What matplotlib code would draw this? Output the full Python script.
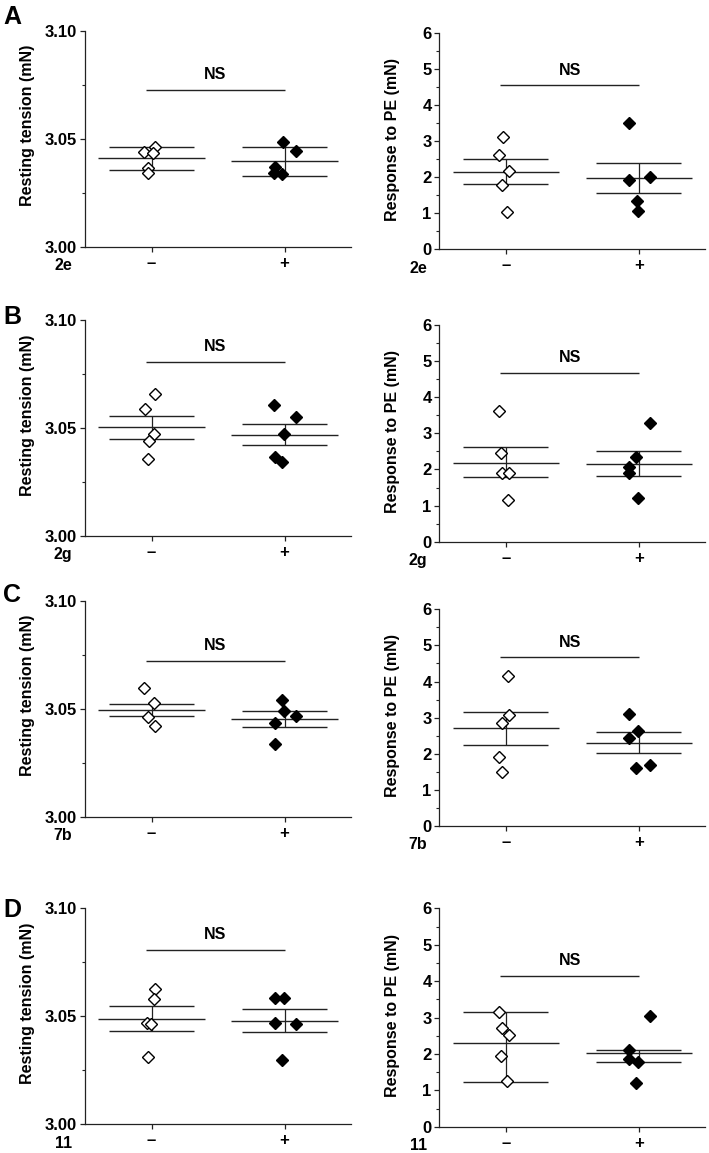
import matplotlib
matplotlib.use('Agg')
import matplotlib.pyplot as plt
import numpy as np

plt.rcParams['font.family'] = ['Liberation Sans', 'DejaVu Sans']
plt.rcParams['font.weight'] = 'bold'

# panel rows
row_letters = ['A', 'B', 'C', 'D']
row_tags = ['2e', '2g', '7b', '11']
groups = ['–', '+']

# resting tension (mN), one list per row
rt_neg = [
    [3.0438, 3.0461, 3.0435, 3.0366, 3.0339],
    [3.0656, 3.0586, 3.0472, 3.0438, 3.0357],
    [3.0597, 3.0528, 3.0463, 3.0420],
    [3.0625, 3.0577, 3.0466, 3.0463, 3.0309],
]
rt_pos = [
    [3.0486, 3.0444, 3.0370, 3.0343, 3.0336],
    [3.0606, 3.0549, 3.0472, 3.0367, 3.0344],
    [3.0540, 3.0491, 3.0468, 3.0435, 3.0335],
    [3.0582, 3.0582, 3.0466, 3.0462, 3.0297],
]
rt_mean = [[3.0409, 3.0397], [3.0505, 3.0469], [3.0494, 3.0452], [3.0485, 3.0478]]
rt_lo = [[3.0356, 3.0326], [3.0449, 3.0420], [3.0467, 3.0417], [3.0431, 3.0425]]
rt_hi = [[3.0463, 3.0463], [3.0556, 3.0520], [3.0523, 3.0489], [3.0545, 3.0532]]
rt_ns = [3.0725, 3.0807, 3.0722, 3.0805]

# response to PE (mN)
pe_neg = [
    [3.11, 2.62, 2.18, 1.79, 1.04],
    [3.62, 2.45, 1.91, 1.89, 1.15],
    [4.15, 3.07, 2.86, 1.90, 1.49],
    [3.14, 2.72, 2.52, 1.94, 1.26],
]
pe_pos = [
    [3.52, 1.93, 2.02, 1.34, 1.06],
    [3.28, 2.34, 2.08, 1.91, 1.20],
    [3.10, 2.64, 2.43, 1.60, 1.69],
    [3.04, 2.12, 1.87, 1.78, 1.21],
]
pe_mean = [[2.15, 1.99], [2.19, 2.15], [2.70, 2.30], [2.31, 2.03]]
pe_lo = [[1.81, 1.56], [1.80, 1.83], [2.23, 2.03], [1.24, 1.79]]
pe_hi = [[2.51, 2.41], [2.61, 2.50], [3.16, 2.59], [3.16, 2.12]]
pe_ns = [4.55, 4.68, 4.67, 4.15]

# horizontal scatter of the points around each group
rt_neg_dx = [[-0.058, 0.025, 0.0125, -0.025, -0.025], [0.03, -0.0525, 0.0175, -0.02, -0.025],
             [-0.058, 0.017, -0.028, 0.023], [0.025, 0.0175, -0.0325, -0.0075, -0.025]]
rt_pos_dx = [[-0.008, 0.0875, -0.07, -0.078, -0.02], [-0.0775, 0.0875, -0.0075, -0.07, -0.02],
             [-0.02, -0.0075, 0.0875, -0.07, -0.07], [-0.07, -0.0075, -0.07, 0.0875, -0.02]]
pe_neg_dx = [[-0.02, -0.05, 0.025, -0.03, 0.0125], [-0.05, -0.0325, -0.025, 0.025, 0.0175],
             [0.0175, 0.025, -0.025, -0.05, -0.03], [-0.05, -0.025, 0.025, -0.0325, 0.0125]]
pe_pos_dx = [[-0.07, -0.07, 0.0875, -0.0125, -0.005], [0.0875, -0.0175, -0.07, -0.07, -0.005],
             [-0.07, -0.005, -0.07, -0.0175, 0.0875], [0.0875, -0.07, -0.07, -0.005, -0.0175]]

W, H = 709, 1153
LINE = '#222222'


def rect(left, top, right, bottom):
    return [left / W, 1 - bottom / H, (right - left) / W, (bottom - top) / H]


def draw_panel(ax, neg, pos, ndx, pdx, mean, lo, hi, ns_y, ylim, major, minor, fmt,
               ylabel, ylabel_fs, tag, lab_x, lab_y, tag_dx):
    ax.plot(1 + np.array(ndx), neg, 'D', ms=6.3, mfc='white', mec='black', mew=1.0, ls='none', zorder=3)
    ax.plot(2 + np.array(pdx), pos, 'D', ms=6.3, mfc='black', mec='black', mew=1.0, ls='none', zorder=3)
    for g in range(2):
        c = g + 1
        ax.hlines(mean[g], c - 0.4, c + 0.4, color=LINE, lw=1.0, zorder=2)
        ax.hlines([lo[g], hi[g]], c - 0.32, c + 0.32, color=LINE, lw=1.0, zorder=2)
        ax.vlines(c, lo[g], hi[g], color=LINE, lw=0.9, zorder=2)
    ax.hlines(ns_y, 0.955, 2.0, color=LINE, lw=1.0)
    ax.annotate('NS', (1.48, ns_y), xytext=(0, 5.5), textcoords='offset points',
                ha='center', va='bottom', fontsize=11.5, fontweight='bold')
    ax.set_xlim(0.5, 2.5)
    ax.set_ylim(*ylim)
    ax.set_xticks([1, 2])
    ax.set_xticklabels(groups, fontsize=12, fontweight='bold')
    ax.set_yticks(major)
    ax.set_yticklabels([fmt % v for v in major], fontsize=12, fontweight='bold')
    ax.set_yticks(minor, minor=True)
    ax.tick_params(axis='both', which='major', direction='out', length=3.6, width=0.9,
                   color=LINE, pad=2)
    ax.tick_params(axis='y', which='minor', direction='out', length=2.2, width=0.8, color=LINE)
    ax.tick_params(axis='x', pad=3)
    for s in ['top', 'right']:
        ax.spines[s].set_visible(False)
    for s in ['left', 'bottom']:
        ax.spines[s].set_linewidth(0.9)
        ax.spines[s].set_color(LINE)
    ax.set_ylabel(ylabel, fontsize=ylabel_fs, fontweight='bold')
    ax.yaxis.set_label_coords(lab_x, lab_y)
    ax.annotate(tag, (0, 0), xycoords='axes fraction', xytext=(tag_dx, -13.5),
                textcoords='offset points', ha='right', va='center', fontsize=11.5, fontweight='bold')


fig = plt.figure(figsize=(W / 100, H / 100), dpi=100)

left_rows = [(30.7, 246.7), (320, 536), (600.7, 816.7), (907.7, 1124.3)]
right_rows = [(33.3, 249.3), (325, 541.7), (609.3, 826), (908.3, 1126.7)]
letter_tops = [5, 305, 583, 898]

for i in range(4):
    axl = fig.add_axes(rect(85, left_rows[i][0], 351, left_rows[i][1]))
    draw_panel(axl, rt_neg[i], rt_pos[i], rt_neg_dx[i], rt_pos_dx[i], rt_mean[i], rt_lo[i], rt_hi[i],
               rt_ns[i], (3.00, 3.10), [3.00, 3.05, 3.10], [3.025, 3.075], '%.2f',
               'Resting tension (mN)', 11.5, row_tags[i], -50 / 266, 0.56, -9)
    axr = fig.add_axes(rect(439.3, right_rows[i][0], 705.3, right_rows[i][1]))
    draw_panel(axr, pe_neg[i], pe_pos[i], pe_neg_dx[i], pe_pos_dx[i], pe_mean[i], pe_lo[i], pe_hi[i],
               pe_ns[i], (0, 6), list(range(7)), list(np.arange(0.5, 6, 1.0)), '%d',
               'Response to PE (mN)', 11.5, row_tags[i], -39 / 266, 0.51, -8.5)
    fig.text(3 / W, 1 - letter_tops[i] / H, row_letters[i], fontsize=18, fontweight='bold',
             ha='left', va='top')

fig.savefig('out.png', dpi=100)
